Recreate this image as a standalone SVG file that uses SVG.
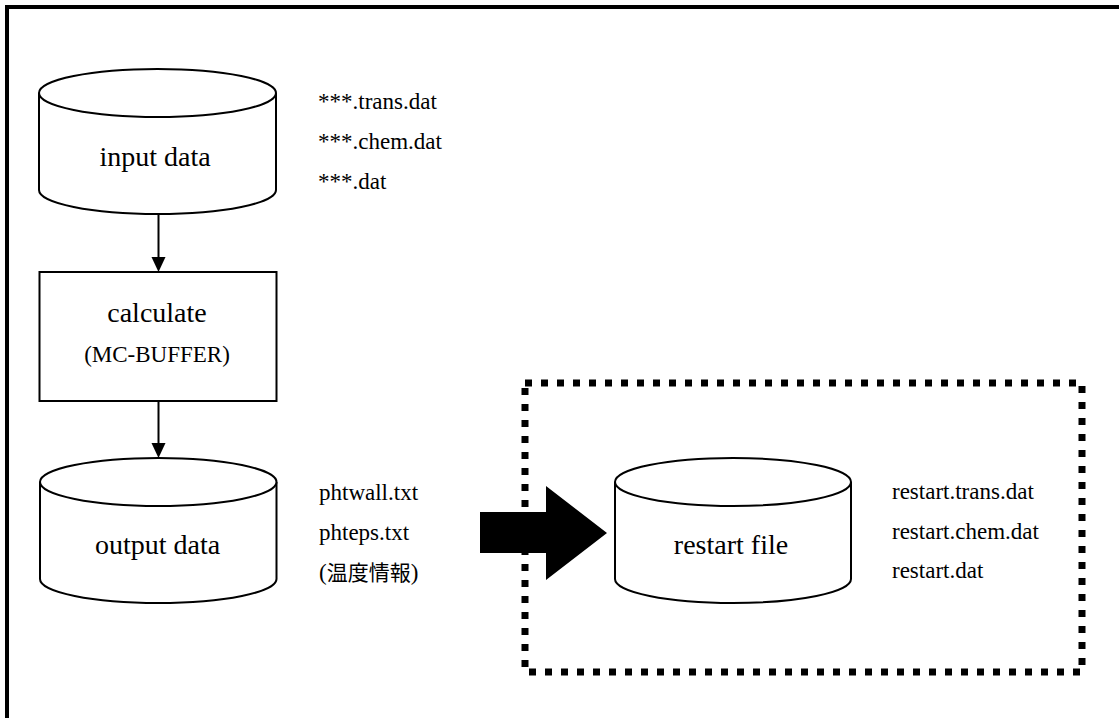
<svg xmlns="http://www.w3.org/2000/svg" width="1119" height="718" viewBox="0 0 1119 718">
<style>
.shape{fill:#fff;stroke:#000;stroke-width:2}
.big{font-family:"Liberation Serif",serif;font-size:28px;fill:#000;text-anchor:middle}
.small{font-family:"Liberation Serif",serif;font-size:23px;fill:#000}
.cjk{font-family:"Noto Sans CJK JP",sans-serif;font-size:21px}
.conn{stroke:#000;stroke-width:2;fill:none}
.head{fill:#000;stroke:none}
</style>
<rect width="1119" height="718" fill="#fff"/>
<g id="frame">
<line x1="5" y1="7" x2="1119" y2="7" stroke="#000" stroke-width="4"/>
<line x1="7" y1="5" x2="7" y2="718" stroke="#000" stroke-width="4"/>
</g>
<g id="restart-group">
<rect x="525" y="383" width="557" height="289" fill="none" stroke="#000" stroke-width="7" stroke-dasharray="7 9"/>
</g>
<g id="input-data">
<path class="shape" d="M39,93 L39,190 A118.5,24 0 0 0 276,190 L276,93"/>
<ellipse class="shape" cx="157.5" cy="93" rx="118.5" ry="24"/>
<text class="big" x="155" y="166">input data</text>
</g>
<g id="input-files">
<text class="small" x="318" y="109">***.trans.dat</text>
<text class="small" x="318" y="149">***.chem.dat</text>
<text class="small" x="318" y="189">***.dat</text>
</g>
<g id="calculate">
<rect class="shape" x="39.5" y="272" width="237" height="129" stroke-width="1.5"/>
<text class="big" x="157" y="322">calculate</text>
<text class="big" x="157" y="362" style="font-size:23px">(MC-BUFFER)</text>
</g>
<g id="output-data">
<path class="shape" d="M40,482 L40,579 A118.25,24 0 0 0 276.5,579 L276.5,482"/>
<ellipse class="shape" cx="158.25" cy="482" rx="118.25" ry="24"/>
<text class="big" x="157.5" y="554">output data</text>
</g>
<g id="output-files">
<text class="small" x="319" y="500">phtwall.txt</text>
<text class="small" x="319" y="540">phteps.txt</text>
<text class="small" x="319" y="580">(<tspan class="cjk">温度情報</tspan>)</text>
</g>
<g id="restart-file">
<path class="shape" d="M615,482 L615,579 A118,24 0 0 0 851,579 L851,482"/>
<ellipse class="shape" cx="733" cy="482" rx="118" ry="24"/>
<text class="big" x="731" y="554">restart file</text>
</g>
<g id="restart-files">
<text class="small" x="892" y="499">restart.trans.dat</text>
<text class="small" x="892" y="539">restart.chem.dat</text>
<text class="small" x="892" y="578">restart.dat</text>
</g>
<g id="connectors">
<line class="conn" x1="158.5" y1="214" x2="158.5" y2="258"/>
<polygon class="head" points="151.5,257 165.5,257 158.5,272"/>
<line class="conn" x1="158.5" y1="401" x2="158.5" y2="444"/>
<polygon class="head" points="151.5,443 165.5,443 158.5,458"/>
<polygon class="head" points="480,512 546,512 546,486 607,533 546,580 546,553 480,553"/>
</g>
</svg>
